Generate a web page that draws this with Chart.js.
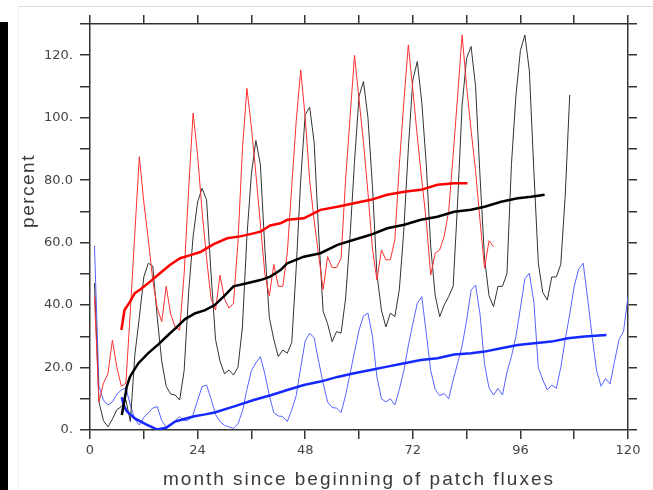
<!DOCTYPE html>
<html>
<head>
<meta charset="utf-8">
<script src="https://cdn.jsdelivr.net/npm/chart.js@4/dist/chart.umd.min.js"></script>
<style>
  html, body { margin: 0; padding: 0; background: #fff; }
  #wrap { position: relative; width: 653px; height: 490px; overflow: hidden; background: #fff; }
  #chart { position: absolute; left: 0; top: 0; }
  .edge-bar { position: absolute; left: 0; top: 22px; width: 8px; height: 468px; background: #000; }
  .edge-h { position: absolute; left: 18px; top: 6px; width: 635px; height: 1px; background: #dcdcdc; }
  .edge-v { position: absolute; left: 18px; top: 6px; width: 1px; height: 484px; background: #efefef; }
  .xtitle { position: absolute; left: 90px; top: 468px; width: 538px; height: 19px; line-height: 19px;
            text-align: center; font: normal 400 19px 'Liberation Sans', Arial, sans-serif; letter-spacing: 2px; color: #3a3a3a; }
</style>
</head>
<body>
<div id="wrap">
  <div class="edge-bar"></div>
  <div class="edge-h"></div>
  <div class="edge-v"></div>
  <canvas id="chart" width="653" height="490"></canvas>
  <div class="xtitle">month since beginning of patch fluxes</div>
</div>
<script>
// ── Monthly values (first value is month 1) ──
const redMonthly = [42.7, 9, 15, 18, 28.8, 20, 14, 15, 38, 63,
  87.5, 73, 61, 48, 39, 34.7, 46, 37, 33, 32,
  50, 77, 101.5, 88, 70, 55, 42, 38.4, 49.6, 42,
  39, 40.6, 60, 90, 109.4, 97, 82, 66, 50, 43,
  53, 46, 46, 56.6, 78, 99, 115.3, 100, 80, 67,
  56, 45, 55.5, 52, 52, 55, 80, 100, 120, 106,
  92, 76, 58, 48, 57.7, 54.5, 54.5, 61, 85, 105,
  123.3, 109, 94, 80, 67, 49.6, 56.6, 57.7, 62, 70,
  88, 107, 126.5, 110, 96, 83, 67, 51.8, 60.6, 58.7];

const blackMonthly = [47, 9, 3, 1, 3.5, 6.5, 7.5, 9.6, 2.7, 24,
  36, 49, 53.4, 52.5, 36, 22, 14, 11.5, 11.2, 9.6,
  19, 44, 62, 73, 77.4, 73.7, 50, 29, 22, 18,
  19.2, 17.6, 20, 33, 62, 82, 92.7, 85, 58, 36,
  29, 23.5, 25.6, 24.6, 28, 52, 80, 101, 103.4, 92,
  63, 38, 34, 28.3, 31.5, 31, 42, 62, 86, 106.8,
  111.6, 100, 78, 50, 38.4, 33, 37.4, 36.3, 45, 64,
  90, 112, 118, 105, 85, 58.7, 43, 36.3, 40, 42.7,
  46, 73, 104, 119, 122.8, 110, 81, 55, 43, 39.5,
  46, 46, 50, 85, 107, 121.5, 126.5, 115, 83, 53.4,
  44, 41.6, 49, 49, 53, 75, 107.3];

const blueMonthly = [59, 14, 9.6, 8, 9, 11.5, 12.8, 13.5, 8, 3.5,
  1.6, 4, 5.5, 7, 7.5, 3, 1, 2, 3, 4.3,
  3, 3.2, 5, 9.5, 13.9, 14.4, 10, 5, 2.7, 1.5,
  1, 0.5, 2, 6, 13, 19, 21.5, 23.5, 18, 11,
  5.5, 4.5, 4.3, 2.7, 6.4, 11, 20, 28.5, 31, 29.5,
  22, 15, 9, 7.2, 7, 5.6, 11, 18, 25, 32,
  36.5, 37.4, 30, 17, 10, 9, 10, 8, 13, 19,
  27, 34, 40.6, 42.7, 31, 19, 13, 11, 11.7, 10,
  16, 21.4, 27, 35, 44.8, 46.4, 37, 21, 13.5, 11.2,
  13.3, 11.2, 18.5, 23.5, 30, 39, 48.5, 50.2, 41, 20,
  16, 12.8, 14.4, 13.3, 20, 29, 37, 46, 51.5, 53.4,
  42, 30, 19, 14, 16.5, 14.7, 22, 29, 31.5, 42.7];

// ── Running means (month, value) ──
const redMeanMonths = [7, 7.7, 8.9, 10, 11.2, 13.4, 15.6, 17.9, 20.1, 22.4, 24.6, 27.6, 30.6, 33.5, 36, 38,
  40.2, 42.5, 44, 47.7, 51.4, 55.2, 58.9, 62.6, 66.3, 70.1, 73.8, 77.5, 81.2, 84.2];
const redMeanVals = [32, 38.4, 41, 43.8, 45, 47.5, 50.2, 52.9, 55, 56, 57, 59.5, 61.4, 62, 62.8, 63.5,
  65.5, 66.2, 67.3, 67.8, 70.5, 71.5, 72.6, 73.7, 75.3, 76.3, 76.9, 78.5, 79, 79];

const blackMeanMonths = [7.1, 7.7, 8.2, 8.9, 9.3, 10.8, 13, 15.3, 17.5, 19.4, 21.2, 23.5, 25.7, 27.8, 29.8,
  32, 35, 38, 40.2, 42.5, 44, 47.7, 51.4, 55.2, 58.9, 62.6, 66.3, 70.1, 73.8, 77.5, 81.2, 85, 88, 91.7,
  95.4, 98.4, 101.4];
const blackMeanVals = [4.8, 9.6, 13.9, 17, 18, 21.4, 24.6, 27.5, 30.5, 33, 35.5, 37.4, 38.4, 40, 42.7,
  46, 47, 48, 49.1, 51.2, 53.4, 55.5, 56.6, 59.3, 60.9, 62.5, 64.6, 65.7, 67.3, 68.3, 69.9, 70.5, 71.5, 73.1,
  74.2, 74.7, 75.3];

const blueMeanMonths = [7.1, 7.5, 8.2, 10, 12.5, 14.9, 17, 19, 21.2, 23.3, 25.7, 27.8, 32, 36.5, 40.5, 44,
  47.7, 51.4, 55.2, 58.9, 62.6, 66.3, 70.1, 73.8, 77.5, 81.2, 85, 88, 91.7, 95.4, 99.1, 102.9, 106.6,
  110.3, 115.2];
const blueMeanVals = [10.5, 8, 6, 3.7, 1.8, 0.2, 0.7, 2.7, 3.6, 4.4, 5, 5.6, 7.5, 9.6, 11.2, 12.8,
  14.4, 15.5, 17, 18.2, 19.2, 20.3, 21.4, 22.4, 23, 24.2, 24.6, 25.1, 26.2, 27.2, 27.8, 28.3, 29.4,
  29.9, 30.4];

// ── Axis settings ──
const xTickStep = 12;
const xLabelStep = 24;
const yTickStep = 10;
const yLabelStep = 20;
const yTitle = 'percent';

function monthly(vals) {
  return vals.map(function(v, i) { return { x: i + 1, y: v }; });
}
function paired(xs, ys) {
  return xs.map(function(x, i) { return { x: x, y: ys[i] }; });
}
function yLabel(v) {
  if (v % yLabelStep !== 0) return '';
  if (v === 0) return '0.';
  if (v >= 100) return v + '.';
  return v + '.0';
}

const axisColor = '#333';
const labelColor = '#444';
const tickFont = { family: 'DejaVu Sans', size: 13 };

// top and right frame: ticks only, no labels
function edgeScale(pos, isX, size) {
  return {
    type: 'linear',
    position: pos,
    min: 0,
    max: isX ? 120 : 130,
    ticks: {
      stepSize: isX ? xTickStep : yTickStep,
      autoSkip: false,
      maxRotation: 0,
      callback: function() { return ''; }
    },
    grid: { drawOnChartArea: false, drawTicks: true, tickLength: 9, color: axisColor, lineWidth: 1.5 },
    border: { display: true, color: axisColor, width: 1.5 },
    afterFit: function(s) { if (isX) s.height = size; else s.width = size; }
  };
}

// rotated y title, spaced like the original
const yTitlePlugin = {
  id: 'yTitle',
  afterDraw: function(chart) {
    const ctx = chart.ctx;
    ctx.save();
    ctx.translate(27, 191);
    ctx.rotate(-Math.PI / 2);
    ctx.font = '19px "Liberation Sans", Arial, sans-serif';
    if ('letterSpacing' in ctx) ctx.letterSpacing = '1.5px';
    ctx.fillStyle = '#3a3a3a';
    ctx.textAlign = 'center';
    ctx.textBaseline = 'alphabetic';
    ctx.fillText(yTitle, 0, 6.5);
    ctx.restore();
  }
};

const ds = [
  { data: paired(redMeanMonths, redMeanVals), borderColor: '#ff0000', borderWidth: 2.5 },
  { data: paired(blackMeanMonths, blackMeanVals), borderColor: '#000000', borderWidth: 2.5 },
  { data: paired(blueMeanMonths, blueMeanVals), borderColor: '#1428ff', borderWidth: 2.5 },
  { data: monthly(redMonthly), borderColor: '#ff3030', borderWidth: 1 },
  { data: monthly(blackMonthly), borderColor: '#333333', borderWidth: 1 },
  { data: monthly(blueMonthly), borderColor: '#5563ff', borderWidth: 1 }
];
ds.forEach(function(d) {
  d.pointRadius = 0;
  d.tension = 0;
  d.fill = false;
  d.xAxisID = 'x';
  d.yAxisID = 'y';
});

new Chart(document.getElementById('chart'), {
  type: 'line',
  data: { datasets: ds },
  plugins: [yTitlePlugin],
  options: {
    responsive: false,
    animation: false,
    devicePixelRatio: 1,
    layout: { padding: 0 },
    plugins: { legend: { display: false }, tooltip: { enabled: false } },
    scales: {
      x: {
        type: 'linear', position: 'bottom', min: 0, max: 120,
        ticks: {
          stepSize: xTickStep, autoSkip: false, maxRotation: 0, padding: 4,
          color: labelColor, font: tickFont,
          callback: function(v) { return v % xLabelStep === 0 ? String(v) : ''; }
        },
        grid: { drawOnChartArea: false, drawTicks: true, tickLength: 9, color: axisColor, lineWidth: 1.5 },
        border: { display: true, color: axisColor, width: 1.5 },
        afterFit: function(s) { s.height = 60; }
      },
      y: {
        type: 'linear', position: 'left', min: 0, max: 130,
        ticks: {
          stepSize: yTickStep, autoSkip: false, padding: 7,
          color: labelColor, font: tickFont,
          callback: yLabel
        },
        grid: { drawOnChartArea: false, drawTicks: true, tickLength: 10, color: axisColor, lineWidth: 1.5 },
        border: { display: true, color: axisColor, width: 1.5 },
        afterFit: function(s) { s.width = 90; }
      },
      x2: edgeScale('top', true, 24),
      y2: edgeScale('right', false, 25)
    }
  }
});
</script>
</body>
</html>
